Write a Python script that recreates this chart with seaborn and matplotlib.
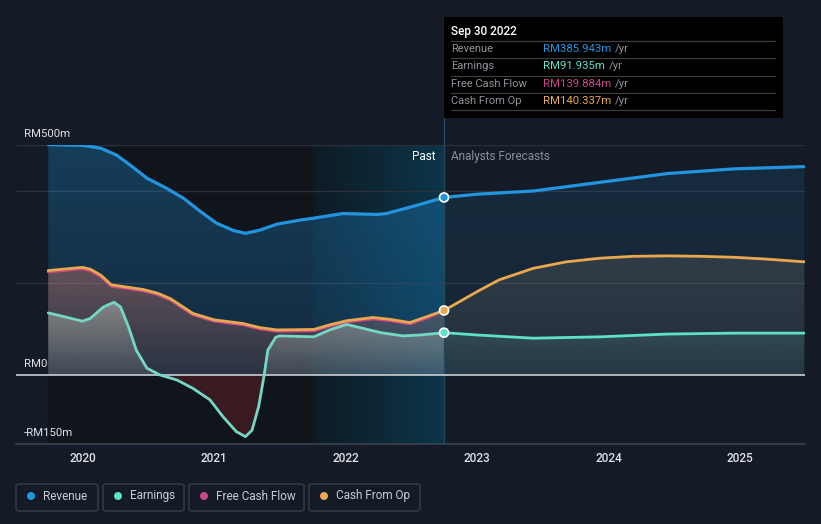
import numpy as np
import pandas as pd
import matplotlib
matplotlib.use("Agg")
import matplotlib.pyplot as plt
import seaborn as sns
from matplotlib.patches import Rectangle, FancyBboxPatch, Ellipse
from matplotlib.lines import Line2D
from matplotlib.colors import to_rgb

# ---------------- data (RM millions) ----------------
rev_years_past = [2019.74, 2020.01, 2020.14, 2020.26, 2020.36, 2020.49, 2020.64, 2020.77, 2020.90,
                  2021.02, 2021.15, 2021.24, 2021.35, 2021.48, 2021.66, 2021.76, 2021.98, 2022.24,
                  2022.31, 2022.52, 2022.75]
rev_past = [501, 499, 493, 478, 457, 428, 406, 384, 355, 330, 314, 308, 315, 328, 337, 341, 351,
            349, 351, 367, 386]
rev_years_fc = [2022.75, 2023.0, 2023.43, 2023.94, 2024.45, 2024.95, 2025.49]
rev_fc = [386, 393, 400, 419, 438, 448, 453]

earn_years_past = [2019.74, 2019.86, 2020.00, 2020.06, 2020.16, 2020.24, 2020.29, 2020.35, 2020.41,
                   2020.49, 2020.59, 2020.72, 2020.84, 2020.97, 2021.07, 2021.17, 2021.24, 2021.29,
                   2021.34, 2021.38, 2021.41, 2021.47, 2021.50, 2021.76, 2021.88, 2022.01, 2022.14,
                   2022.27, 2022.44, 2022.57, 2022.75]
earn_past = [135, 127, 117, 123, 148, 158, 148, 105, 54, 15, 0, -11, -29, -54, -91, -123, -134,
             -120, -69, -4, 54, 82, 85, 83, 98, 110, 101, 92, 85, 87, 92]
earn_years_fc = [2022.75, 2023.0, 2023.43, 2023.94, 2024.45, 2024.95, 2025.49]
earn_fc = [92, 87, 80, 83, 89, 91, 91]

cfo_years_past = [2019.74, 2020.00, 2020.06, 2020.14, 2020.22, 2020.34, 2020.46, 2020.57, 2020.67,
                  2020.84, 2021.00, 2021.22, 2021.35, 2021.48, 2021.76, 2021.88, 2022.01, 2022.21,
                  2022.34, 2022.49, 2022.62, 2022.75]
cfo_past = [227, 234, 230, 217, 196, 191, 186, 178, 166, 134, 120, 112, 103, 98, 99, 109, 118, 125,
            121, 114, 127, 140.3]
fcf_past = [224, 231, 227, 214, 193, 188, 183, 175, 163, 131, 117, 109, 100, 95, 96, 106, 115, 122,
            118, 111, 124, 139.9]
cfo_years_fc = [2022.75, 2023.0, 2023.17, 2023.43, 2023.68, 2023.94, 2024.19, 2024.45, 2024.70,
                2024.95, 2025.20, 2025.49]
cfo_fc = [140.3, 181, 207, 232, 246, 254, 258, 259, 258, 256, 252, 246]

year_ticks = [2020, 2021, 2022, 2023, 2024, 2025]
series_names = ["Revenue", "Earnings", "Free Cash Flow", "Cash From Op"]
tooltip_values = ["RM385.943m", "RM91.935m", "RM139.884m", "RM140.337m"]
tooltip_date = "Sep 30 2022"

# ---------------- style ----------------
BG = "#151b26"
C_REV = "#2394df"
C_EARN = "#5fe0c8"
C_FCF = "#c9478a"
C_CFO = "#e9a84e"
TXT = "#dfe2e7"
GRID = "#2a313c"

sns.set_theme(style="dark")
plt.rcParams["font.family"] = ["Roboto", "DejaVu Sans"]

W, H = 821, 524
fig = plt.figure(figsize=(W / 100, H / 100), dpi=100)
fig.patch.set_facecolor(BG)
ax = fig.add_axes([16 / W, 80 / H, 789 / W, 299 / H])
ax.set_facecolor(BG)
XMIN, XMAX = 2019.495, 2025.495
YMIN, YMAX = -150, 500
ax.set_xlim(XMIN, XMAX)
ax.set_ylim(YMIN, YMAX)
for s in ["top", "right", "left"]:
    ax.spines[s].set_visible(False)
ax.spines["bottom"].set_color("#3b424d")
ax.spines["bottom"].set_linewidth(1.2)
ax.grid(False)

past_start = rev_years_past[0]
split = rev_years_past[-1]
hl_start = 2021.75

# background regions
ax.axvspan(past_start, hl_start, color="#10141b", zorder=0, lw=0)
grad = np.linspace(0, 1, 256)[None, :]
c0, c1 = np.array(to_rgb("#0f1b25")), np.array(to_rgb("#0b3549"))
img = c0[None, None, :] * (1 - grad[..., None]) + c1[None, None, :] * grad[..., None]
ax.imshow(img, extent=[hl_start, split, YMIN, YMAX], aspect="auto", zorder=0.5, origin="lower")
ax.set_xlim(XMIN, XMAX)
ax.set_ylim(YMIN, YMAX)

# gridlines
for g in [200, 400, 500]:
    ax.axhline(g, color=GRID, lw=1.0, zorder=1)


def grad_fill(xs, ys, color, a_top, a_bot, z, base=0.0):
    xs = np.asarray(xs, float)
    ys = np.asarray(ys, float)
    poly = ax.fill_between(xs, ys, base, facecolor="none", edgecolor="none", zorder=z)
    top = max(ys.max(), base)
    bot = min(ys.min(), base)
    n = 256
    alph = np.linspace(a_bot, a_top, n)[:, None]
    rgba = np.zeros((n, 1, 4))
    rgba[..., :3] = to_rgb(color)
    rgba[..., 3] = alph
    im = ax.imshow(rgba, extent=[xs.min(), xs.max(), bot, top], aspect="auto",
                   origin="lower", zorder=z)
    path = poly.get_paths()[0]
    im.set_clip_path(path, transform=ax.transData)
    ax.set_xlim(XMIN, XMAX)
    ax.set_ylim(YMIN, YMAX)


# revenue fills
grad_fill(rev_years_past, rev_past, C_REV, 0.32, 0.18, 2)
grad_fill(rev_years_fc, rev_fc, C_REV, 0.13, 0.08, 2)
# cash flow fills
grad_fill(cfo_years_past, cfo_past, "#c8766a", 0.45, 0.12, 3)
grad_fill(cfo_years_fc, cfo_fc, "#8a8a7a", 0.22, 0.10, 3)
# earnings fills
earn_p = np.array(earn_past, float)
grad_fill(earn_years_past, np.clip(earn_p, 0, None), "#c8d8cc", 0.42, 0.12, 4)
ax.fill_between(earn_years_past, np.clip(earn_p, None, 0), 0, color="#3a1a21", lw=0, zorder=4)
grad_fill(earn_years_fc, earn_fc, "#5fa8a0", 0.20, 0.08, 4)

# zero line
ax.axhline(0, color="#c9ced6", lw=1.2, zorder=6)


def line(xs, ys, color, lw, z, alpha=1.0):
    df = pd.DataFrame({"x": xs, "y": ys})
    sns.lineplot(data=df, x="x", y="y", ax=ax, color=color, lw=lw, zorder=z,
                 legend=False, alpha=alpha, solid_capstyle="round", solid_joinstyle="round")


line(rev_years_past + rev_years_fc[1:], rev_past + rev_fc[1:], C_REV, 2.3, 8)
line(cfo_years_past, fcf_past, C_FCF, 2.0, 7)
line(cfo_years_past + cfo_years_fc[1:], cfo_past + cfo_fc[1:], C_CFO, 2.0, 8)
line(earn_years_past, earn_past, "#74d8c4", 2.0, 8)
line(earn_years_fc, earn_fc, C_EARN, 2.0, 8)
ax.set_xlabel("")
ax.set_ylabel("")

# split vertical line (extends up to tooltip)
ax.plot([split, split], [YMIN, (375 - 17) / 0.46], color="#27475a", lw=1.0, zorder=5, clip_on=False)

# end markers
ax.scatter([split] * 3, [rev_past[-1], cfo_past[-1], earn_past[-1]],
           c=[C_REV, C_CFO, C_EARN], s=42, edgecolors="white", linewidths=1.2, zorder=10)

# ticks
ax.set_xticks(year_ticks)
ax.set_xticklabels([str(y) for y in year_ticks], color=TXT, fontsize=8.5, fontweight="medium")
ax.tick_params(axis="x", colors="#3b424d", length=3, width=1, pad=2.5, labelcolor=TXT)
ax.set_yticks([])

# y labels
for val, lab in [(500, "RM500m"), (0, "RM0"), (-150, "-RM150m")]:
    ax.annotate(lab, xy=(8 / 789, val), xycoords=("axes fraction", "data"),
                xytext=(0, 4), textcoords="offset points", color=TXT, fontsize=8.2,
                va="bottom", ha="left", zorder=12)

# Past / Analysts Forecasts
ax.annotate("Past", xy=(split, 500), xytext=(-6, -8), textcoords="offset points",
            ha="right", va="center", color="#ffffff", fontsize=8.5, zorder=12)
ax.annotate("Analysts Forecasts", xy=(split, 500), xytext=(5, -8), textcoords="offset points",
            ha="left", va="center", color="#8b919a", fontsize=8.5, zorder=12)


def fx(x):
    return x / W


def fy(y):
    return 1 - y / H


# tooltip
fig.patches.append(Rectangle((fx(444), fy(118)), fx(783) - fx(444), fy(17) - fy(118),
                             transform=fig.transFigure, facecolor="#000000", edgecolor="none",
                             zorder=20))
fig.text(fx(451), fy(31), tooltip_date, color="#ffffff", fontsize=8.5, fontweight="medium",
         va="center", ha="left", zorder=21)
row_y = [49, 66, 84, 101]
sep_y = [41, 58, 75.5, 93, 110]
for sy in sep_y:
    fig.lines.append(Line2D([fx(451), fx(775)], [fy(sy), fy(sy)], transform=fig.transFigure,
                            color="#3a3d42", lw=0.9, zorder=21))
colors = [C_REV, C_EARN, C_FCF, C_CFO]
fig.canvas.draw()
renderer = fig.canvas.get_renderer()
for name, val, col, ry in zip(series_names, tooltip_values, colors, row_y):
    fig.text(fx(451), fy(ry), name, color="#8f949b", fontsize=8, va="center", ha="left", zorder=21)
    t = fig.text(fx(543), fy(ry), val, color=col, fontsize=8.2, va="center", ha="left", zorder=21)
    bb = t.get_window_extent(renderer)
    fig.text(bb.x1 / W + 4 / W, fy(ry), "/yr", color="#8f949b", fontsize=8.2, va="center",
             ha="left", zorder=21)

# legend boxes
leg = [(16, 98), (103, 184), (189, 304), (309, 420)]
for (x0, x1), name, col in zip(leg, series_names, colors):
    fig.patches.append(FancyBboxPatch((fx(x0), fy(511)), fx(x1) - fx(x0), fy(484) - fy(511),
                                      boxstyle="round,pad=0,rounding_size=0.004",
                                      transform=fig.transFigure, facecolor="none",
                                      edgecolor="#3a404b", lw=1.0))
    fig.patches.append(Ellipse((fx(x0 + 15), fy(496)), 8 / W, 8 / H, transform=fig.transFigure,
                               facecolor=col, edgecolor="none"))
    fig.text(fx(x0 + 27), fy(496), name, color="#c9cdd3", fontsize=8.5, va="center", ha="left")

fig.savefig("out.png", dpi=100, facecolor=BG)
